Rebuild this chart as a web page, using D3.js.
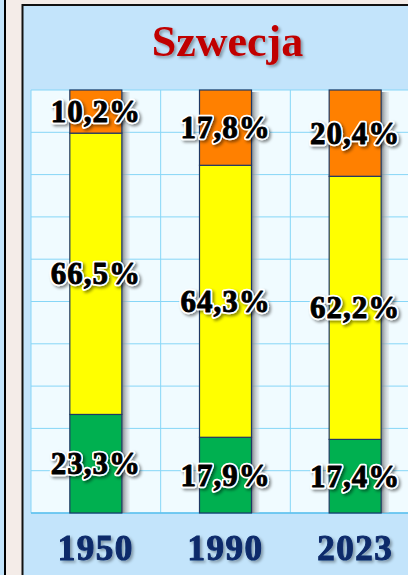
<!DOCTYPE html>
<html><head><meta charset="utf-8">
<script src="https://cdn.jsdelivr.net/npm/d3@7"></script>
<style>html,body{margin:0;padding:0;background:#f4ece8;overflow:hidden}</style>
</head><body>
<script>
const title = "Szwecja";
const years = ["1950", "1990", "2023"];
const green = [23.3, 17.9, 17.4];
const yellow = [66.5, 64.3, 62.2];
const orange = [10.2, 17.8, 20.4];
const yTicks = [0, 10, 20, 30, 40, 50, 60, 70, 80, 90, 100];

const W = 408, H = 575;
const svg = d3.select("body").append("svg").attr("width", W).attr("height", H);
const defs = svg.append("defs");

const f1 = defs.append("filter").attr("id", "lblsh").attr("x", "-20%").attr("y", "-30%").attr("width", "150%").attr("height", "170%");
f1.append("feDropShadow").attr("dx", 2).attr("dy", 2).attr("stdDeviation", 1.5).attr("flood-color", "#000").attr("flood-opacity", 0.45);
const f2 = defs.append("filter").attr("id", "ttlsh").attr("x", "-20%").attr("y", "-30%").attr("width", "150%").attr("height", "170%");
f2.append("feDropShadow").attr("dx", 2).attr("dy", 2).attr("stdDeviation", 1.5).attr("flood-color", "#000").attr("flood-opacity", 0.35);
const g1 = defs.append("linearGradient").attr("id", "barsh").attr("x1", 0).attr("x2", 1).attr("y1", 0).attr("y2", 0);
g1.append("stop").attr("offset", 0).attr("stop-color", "#6f7478").attr("stop-opacity", 0.9);
g1.append("stop").attr("offset", 0.4).attr("stop-color", "#9da3a7").attr("stop-opacity", 0.7);
g1.append("stop").attr("offset", 1).attr("stop-color", "#d0d6da").attr("stop-opacity", 0.3);

svg.append("rect").attr("x", 0).attr("y", 0).attr("width", 5).attr("height", H).attr("fill", "#c3e4fb");
svg.append("line").attr("x1", 5).attr("x2", 5).attr("y1", 0).attr("y2", H).attr("stroke", "#000").attr("stroke-width", 2);
svg.append("rect").attr("x", 22.5).attr("y", 5).attr("width", 500).attr("height", 700)
  .attr("fill", "#c3e4fb").attr("stroke", "#111").attr("stroke-width", 2);

const plotL = 31, plotR = 420, plotT = 90, plotB = 513;
const x = d3.scaleBand().domain(years).range([plotL, plotR]).padding(0);
const y = d3.scaleLinear().domain([0, 100]).range([plotB, plotT]);
const barW = 52;

svg.append("rect").attr("x", plotL).attr("y", plotT).attr("width", plotR - plotL).attr("height", plotB - plotT).attr("fill", "#f0fbff");

svg.append("g").selectAll("line").data(yTicks).join("line")
  .attr("x1", plotL).attr("x2", plotR).attr("y1", d => y(d)).attr("y2", d => y(d))
  .attr("stroke", "#86d6f7").attr("stroke-width", 1);
const vEdges = years.map(d => x(d)).concat([x(years[years.length - 1]) + x.bandwidth()]);
svg.append("g").selectAll("line").data(vEdges).join("line")
  .attr("x1", d => d).attr("x2", d => d).attr("y1", plotT).attr("y2", plotB)
  .attr("stroke", "#86d6f7").attr("stroke-width", 1);
svg.append("line").attr("x1", plotL).attr("x2", plotR).attr("y1", plotB).attr("y2", plotB).attr("stroke", "#5cbfee").attr("stroke-width", 1.5);

const cx = d => x(d) + x.bandwidth() / 2;
const series = [
  { vals: green, color: "#00b050" },
  { vals: yellow, color: "#ffff00" },
  { vals: orange, color: "#ff8000" }
];
const segs = [];
years.forEach((yr, i) => {
  let base = 0;
  series.forEach(s => {
    segs.push({ yr, y0: base, y1: base + s.vals[i], v: s.vals[i], color: s.color });
    base += s.vals[i];
  });
});

svg.append("g").selectAll("rect").data(years).join("rect")
  .attr("x", d => cx(d) + barW / 2).attr("y", y(100) + 2).attr("width", 8).attr("height", plotB - y(100) - 2)
  .attr("fill", "url(#barsh)");

svg.append("g").selectAll("rect").data(segs).join("rect")
  .attr("x", d => cx(d.yr) - barW / 2).attr("width", barW)
  .attr("y", d => y(d.y1)).attr("height", d => y(d.y0) - y(d.y1))
  .attr("fill", d => d.color).attr("stroke", "#1f3864").attr("stroke-width", 1.2);

const fmt = v => v.toFixed(1).replace(".", ",") + "%";
const lblAttrs = sel => sel
  .attr("x", d => cx(d.yr)).attr("y", d => (y(d.y0) + y(d.y1)) / 2)
  .attr("text-anchor", "middle").attr("dominant-baseline", "central")
  .attr("font-family", "Liberation Serif, serif").attr("font-weight", "bold").attr("font-size", 31)
  .attr("letter-spacing", 1).attr("stroke-linejoin", "round")
  .text(d => fmt(d.v));
svg.append("g").selectAll("text").data(segs).join("text").call(lblAttrs)
  .attr("fill", "#fff").attr("stroke", "#fff").attr("stroke-width", 4.5).attr("filter", "url(#lblsh)");
svg.append("g").selectAll("text").data(segs).join("text").call(lblAttrs)
  .attr("fill", "#000").attr("stroke", "#000").attr("stroke-width", 0.9);

svg.append("g").selectAll("text").data(years).join("text")
  .attr("x", d => cx(d)).attr("y", 560)
  .attr("text-anchor", "middle")
  .attr("font-family", "Liberation Serif, serif").attr("font-weight", "bold").attr("font-size", 35)
  .attr("letter-spacing", 1.5).attr("fill", "#0a2a6b").attr("stroke", "#0a2a6b").attr("stroke-width", 1)
  .attr("filter", "url(#ttlsh)")
  .text(d => d);

svg.append("text").attr("x", (plotL + plotR) / 2 + 2).attr("y", 56).attr("text-anchor", "middle")
  .attr("font-family", "Liberation Serif, serif").attr("font-weight", "bold").attr("font-size", 44)
  .attr("fill", "#c00000").attr("filter", "url(#ttlsh)").text(title);
</script>
</body></html>
